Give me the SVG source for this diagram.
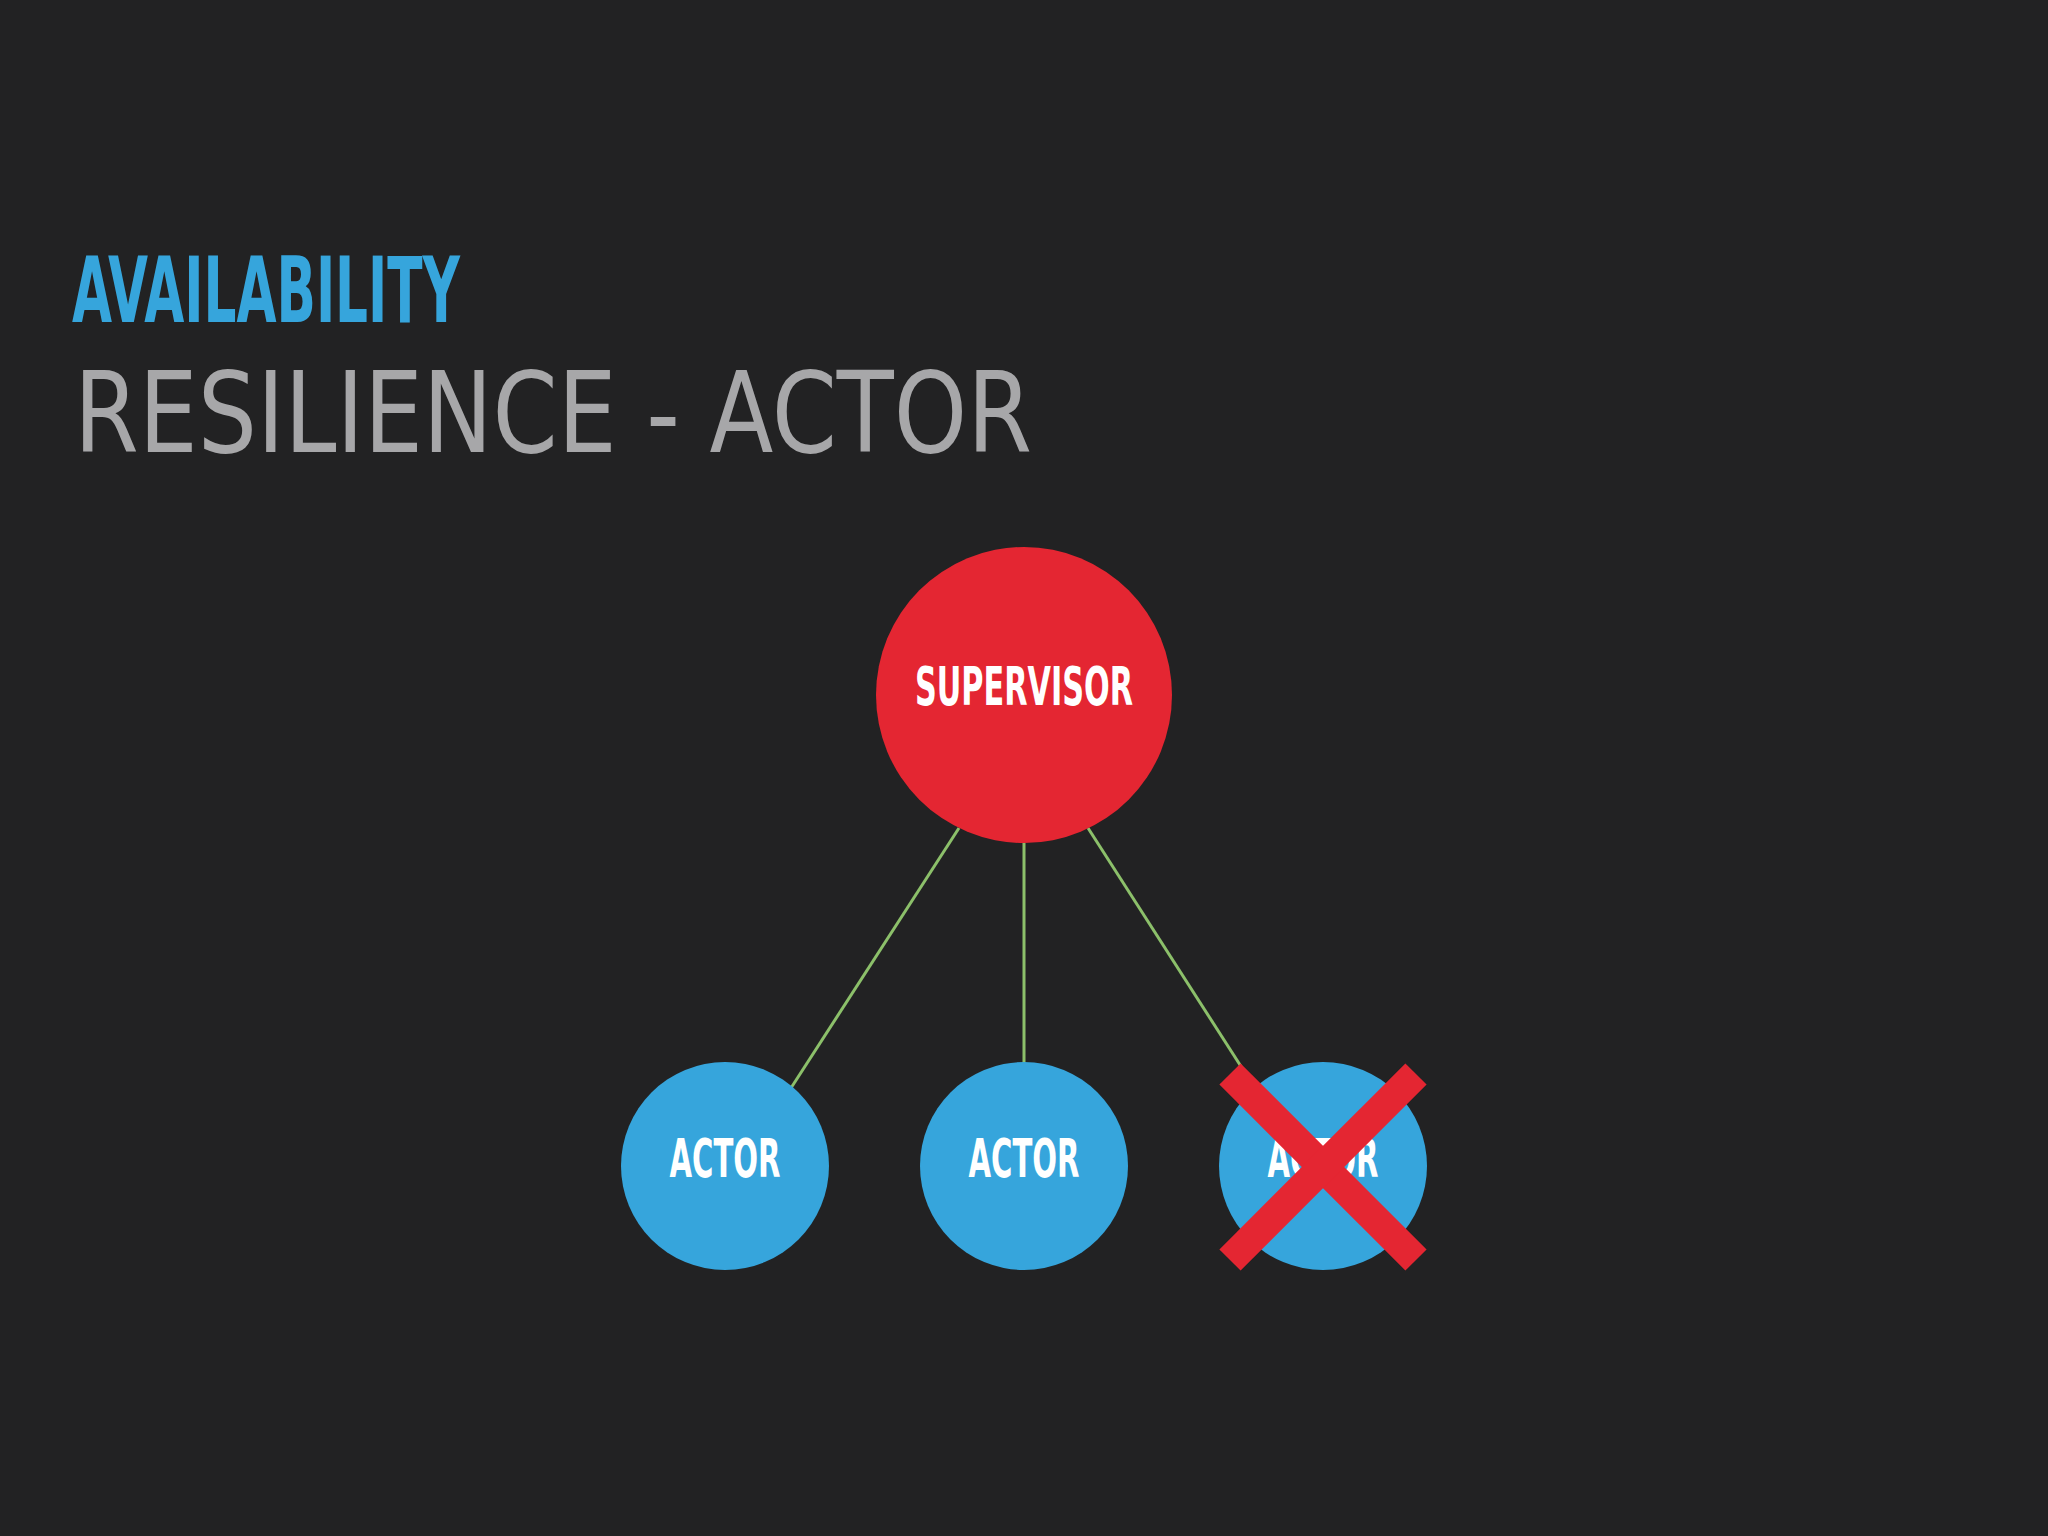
<svg xmlns="http://www.w3.org/2000/svg" width="2048" height="1536" viewBox="0 0 2048 1536">
<style>
.lbl{font-family:"DejaVu Sans Condensed","Liberation Sans",sans-serif;font-weight:bold;fill:#ffffff;text-anchor:middle}
.edge{stroke:#8cc06a;stroke-width:3;fill:none}
.actor{fill:#36a5dc}
</style>
<rect width="2048" height="1536" fill="#222223"/>
<text x="72" y="322" font-family="DejaVu Sans Condensed,Liberation Sans,sans-serif" font-weight="bold" font-size="90" fill="#36a5dc" textLength="388" lengthAdjust="spacingAndGlyphs">AVAILABILITY</text>
<text x="74" y="452" font-family="DejaVu Sans,Liberation Sans,sans-serif" font-size="112" fill="#a7a7a9" textLength="958" lengthAdjust="spacingAndGlyphs">RESILIENCE - ACTOR</text>
<g id="connectors">
<line class="edge" x1="959" y1="828" x2="791" y2="1088"/>
<line class="edge" x1="1024" y1="843" x2="1024" y2="1064"/>
<line class="edge" x1="1088" y1="828" x2="1242" y2="1068"/>
</g>
<g id="supervisor">
<circle cx="1024" cy="695" r="148" fill="#e42632"/>
<text class="lbl" x="1024" y="705" font-size="54" textLength="218" lengthAdjust="spacingAndGlyphs">SUPERVISOR</text>
</g>
<g id="actor1">
<circle class="actor" cx="725" cy="1166" r="104"/>
<text class="lbl" x="725" y="1177" font-size="54" textLength="111" lengthAdjust="spacingAndGlyphs">ACTOR</text>
</g>
<g id="actor2">
<circle class="actor" cx="1024" cy="1166" r="104"/>
<text class="lbl" x="1024" y="1177" font-size="54" textLength="111" lengthAdjust="spacingAndGlyphs">ACTOR</text>
</g>
<g id="actor3">
<circle class="actor" cx="1323" cy="1166" r="104"/>
<text class="lbl" x="1323" y="1177" font-size="54" textLength="111" lengthAdjust="spacingAndGlyphs">ACTOR</text>
<g stroke="#e42632" stroke-width="30">
<line x1="1230" y1="1074" x2="1416" y2="1260"/>
<line x1="1416" y1="1074" x2="1230" y2="1260"/>
</g>
</g>
</svg>
